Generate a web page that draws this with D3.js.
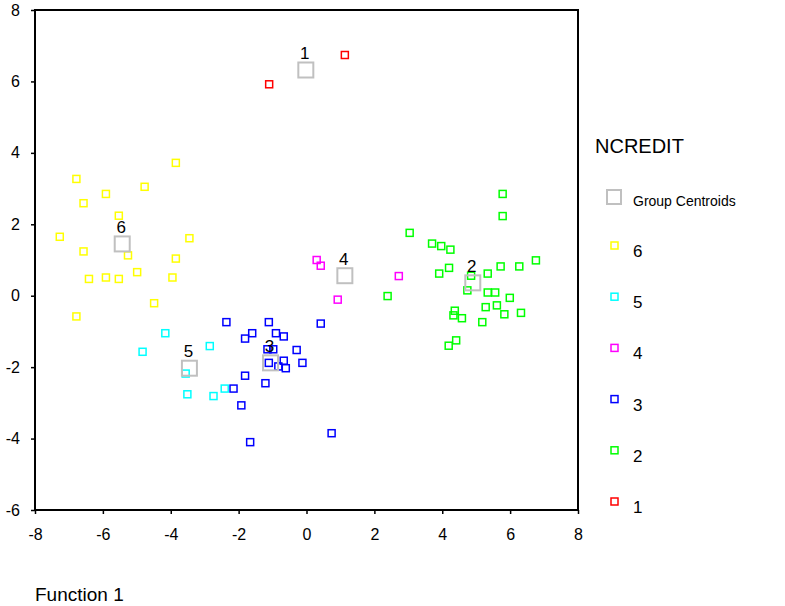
<!DOCTYPE html>
<html><head><meta charset="utf-8">
<script src="https://cdn.jsdelivr.net/npm/d3@7"></script>
<style>body{margin:0;background:#fff}svg{display:block}text{font-family:"Liberation Sans",Arial,sans-serif}</style>
</head><body><svg id="c" width="785" height="606"></svg>
<script>
const xTicks=[-8,-6,-4,-2,0,2,4,6,8];
const yTicks=[-6,-4,-2,0,2,4,6,8];
const groups=["6","5","4","3","2","1"];
const colors={"6":"#ffff00","5":"#00ffff","4":"#ff00ff","3":"#0000ff","2":"#00ff00","1":"#ff0000"};
const g1=[[1.13,6.74],[-1.1,5.92]];
const g2=[[5.78,2.85],[5.78,2.23],[3.04,1.76],[3.7,1.46],[3.97,1.39],[4.24,1.29],[4.2,0.78],[3.91,0.62],[4.85,0.56],[5.34,0.62],[5.72,0.82],[6.27,0.82],[6.76,0.99],[4.74,0.15],[5.34,0.09],[5.56,0.09],[5.99,-0.06],[2.39,-0.01],[5.28,-0.32],[5.61,-0.27],[5.83,-0.52],[6.32,-0.48],[4.37,-0.42],[4.33,-0.55],[4.58,-0.63],[5.18,-0.74],[4.41,-1.25],[4.19,-1.4]];
const g3=[[-2.36,-0.74],[-1.11,-0.74],[0.42,-0.78],[-1.6,-1.05],[-1.81,-1.2],[-0.9,-1.05],[-0.67,-1.14],[-1.15,-1.5],[-0.98,-1.5],[-0.29,-1.52],[-1.11,-1.88],[-0.83,-1.98],[-0.67,-1.82],[-0.61,-2.03],[-0.12,-1.88],[-1.81,-2.24],[-1.21,-2.45],[-2.15,-2.6],[-1.92,-3.07],[0.74,-3.85],[-1.66,-4.1]];
const g4=[[0.3,1.0],[0.42,0.84],[0.92,-0.11],[2.72,0.55]];
const g5=[[-4.16,-1.05],[-2.85,-1.41],[-4.83,-1.57],[-3.56,-2.18],[-3.51,-2.76],[-2.74,-2.81],[-2.41,-2.6]];
const g6=[[-6.78,3.27],[-3.85,3.72],[-6.57,2.59],[-5.91,2.85],[-4.77,3.05],[-5.53,2.24],[-7.27,1.65],[-3.45,1.61],[-6.57,1.24],[-5.26,1.13],[-3.85,1.04],[-4.99,0.66],[-6.41,0.47],[-5.91,0.51],[-5.53,0.47],[-3.95,0.51],[-4.49,-0.21],[-6.78,-0.58]];
const centroids=[["1",-0.02,6.32],["2",4.9,0.36],["3",-1.06,-1.88],["4",1.13,0.56],["5",-3.45,-2.03],["6",-5.43,1.45]];
const series={"1":g1,"2":g2,"3":g3,"4":g4,"5":g5,"6":g6};

const svg=d3.select("#c");
const L=35,R=578,T=10,B=510;
const x=d3.scaleLinear().domain([-8,8]).range([L,R]);
const y=d3.scaleLinear().domain([-6,8]).range([B,T]);

const fmt=d=>String(d);
const xa=svg.append("g").attr("transform",`translate(0,${B})`).call(d3.axisBottom(x).tickValues(xTicks).tickFormat(fmt).tickSize(4).tickPadding(15));
const ya=svg.append("g").attr("transform",`translate(${L},0)`).call(d3.axisLeft(y).tickValues(yTicks).tickFormat(fmt).tickSize(4).tickPadding(11));
[xa,ya].forEach(a=>{a.select(".domain").remove();a.selectAll("line").attr("stroke","#000").attr("stroke-width",1.5);a.selectAll("text").attr("font-size",16).attr("fill","#000").attr("font-family","Liberation Sans, Arial, sans-serif");});

svg.append("rect").attr("x",L).attr("y",T).attr("width",R-L).attr("height",B-T).attr("fill","none").attr("stroke","#000").attr("stroke-width",2);

["1","2","3","4","5","6"].forEach(k=>{
  svg.append("g").selectAll("rect").data(series[k]).join("rect")
    .attr("x",d=>x(d[0])-3.5).attr("y",d=>y(d[1])-3.5).attr("width",7).attr("height",7)
    .attr("fill","none").attr("stroke",colors[k]).attr("stroke-width",1.5);
});
const cg=svg.append("g");
cg.selectAll("rect").data(centroids).join("rect")
  .attr("x",d=>x(d[1])-7.5).attr("y",d=>y(d[2])-7.5).attr("width",15).attr("height",15)
  .attr("fill","none").attr("stroke","#c0c0c0").attr("stroke-width",2);
cg.selectAll("text").data(centroids).join("text")
  .attr("x",d=>x(d[1])-1).attr("y",d=>y(d[2])-11).attr("text-anchor","middle")
  .attr("font-size",17).attr("fill","#000").text(d=>d[0]);

const lg=svg.append("g");
lg.append("text").attr("x",595).attr("y",153).attr("font-size",20).attr("fill","#000").text("NCREDIT");
lg.append("rect").attr("x",607).attr("y",190).attr("width",14).attr("height",14).attr("fill","none").attr("stroke","#c0c0c0").attr("stroke-width",2);
lg.append("text").attr("x",633).attr("y",206).attr("font-size",14).attr("fill","#000").text("Group Centroids");
groups.forEach((k,i)=>{
  const cy=246+i*51.2;
  lg.append("rect").attr("x",611).attr("y",cy-4).attr("width",7).attr("height",7).attr("fill","none").attr("stroke",colors[k]).attr("stroke-width",1.5);
  lg.append("text").attr("x",633).attr("y",cy+11).attr("font-size",17).attr("fill","#000").text(k);
});

svg.append("text").attr("x",35).attr("y",601).attr("font-size",19).attr("fill","#000").text("Function 1");
</script></body></html>
